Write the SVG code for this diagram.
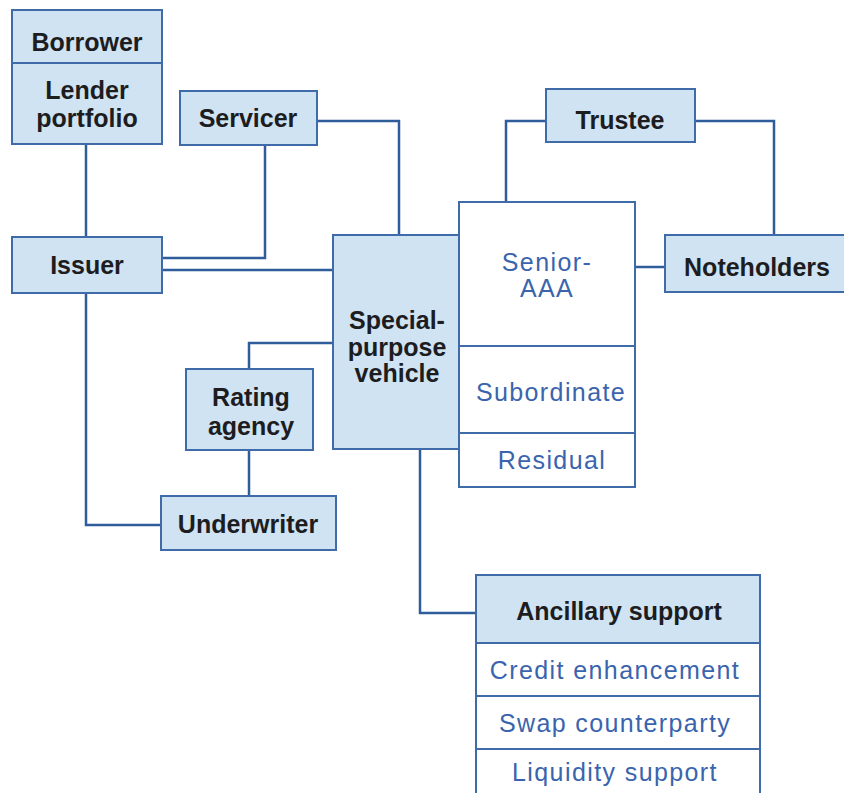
<svg xmlns="http://www.w3.org/2000/svg" width="844" height="793" viewBox="0 0 844 793">
  <style>
    .box { fill: #cfe3f2; stroke: #3f6ca8; stroke-width: 2; }
    .plain { fill: #ffffff; stroke: #3f6ca8; stroke-width: 2; }
    .div { stroke: #3f6ca8; stroke-width: 2; fill: none; }
    .conn { stroke: #2f5d9c; stroke-width: 2.5; fill: none; }
    .lbl { font-family: "Liberation Sans", Arial, sans-serif; font-weight: bold; font-size: 25px; fill: #1d1d1f; text-anchor: middle; }
    .sub { font-family: "Liberation Sans", Arial, sans-serif; font-size: 25px; fill: #3a64ad; text-anchor: middle; letter-spacing: 1.4px; }
  </style>
  <rect width="844" height="793" fill="#ffffff"/>

  <g id="connectors">
    <path class="conn" d="M86 144 V237"/>
    <path class="conn" d="M265 145 V258 H162"/>
    <path class="conn" d="M162 270 H333"/>
    <path class="conn" d="M317 121 H399 V235"/>
    <path class="conn" d="M86 293 V525 H161"/>
    <path class="conn" d="M333 343 H249 V369"/>
    <path class="conn" d="M249 450 V496"/>
    <path class="conn" d="M420 449 V613 H476"/>
    <path class="conn" d="M546 121 H506 V202"/>
    <path class="conn" d="M695 121 H774 V235"/>
    <path class="conn" d="M635 267 H665"/>
  </g>

  <g id="borrower">
    <rect class="box" x="12" y="10" width="150" height="134"/>
    <line class="div" x1="12" y1="63" x2="162" y2="63"/>
    <text class="lbl" x="87" y="51">Borrower</text>
    <text class="lbl" x="87" y="99">Lender</text>
    <text class="lbl" x="87" y="127">portfolio</text>
  </g>

  <g id="servicer">
    <rect class="box" x="180" y="91" width="137" height="54"/>
    <text class="lbl" x="248" y="127">Servicer</text>
  </g>

  <g id="issuer">
    <rect class="box" x="12" y="237" width="150" height="56"/>
    <text class="lbl" x="87" y="274">Issuer</text>
  </g>

  <g id="spv">
    <rect class="box" x="333" y="235" width="126" height="214"/>
    <text class="lbl" x="397" y="329">Special-</text>
    <text class="lbl" x="397" y="356">purpose</text>
    <text class="lbl" x="397" y="382">vehicle</text>
  </g>

  <g id="tranches">
    <rect class="plain" x="459" y="202" width="176" height="285"/>
    <line class="div" x1="459" y1="346" x2="635" y2="346"/>
    <line class="div" x1="459" y1="433" x2="635" y2="433"/>
    <text class="sub" x="547" y="271">Senior-</text>
    <text class="sub" x="547" y="297">AAA</text>
    <text class="sub" x="551" y="401">Subordinate</text>
    <text class="sub" x="552" y="469">Residual</text>
  </g>

  <g id="trustee">
    <rect class="box" x="546" y="89" width="149" height="53"/>
    <text class="lbl" x="620" y="129">Trustee</text>
  </g>

  <g id="noteholders">
    <rect class="box" x="665" y="235" width="180" height="57"/>
    <text class="lbl" x="757" y="276">Noteholders</text>
  </g>

  <g id="rating-agency">
    <rect class="box" x="186" y="369" width="127" height="81"/>
    <text class="lbl" x="251" y="406">Rating</text>
    <text class="lbl" x="251" y="435">agency</text>
  </g>

  <g id="underwriter">
    <rect class="box" x="161" y="496" width="175" height="54"/>
    <text class="lbl" x="248" y="533">Underwriter</text>
  </g>

  <g id="ancillary">
    <rect class="plain" x="476" y="575" width="284" height="230"/>
    <rect class="box" x="476" y="575" width="284" height="68"/>
    <line class="div" x1="476" y1="696" x2="760" y2="696"/>
    <line class="div" x1="476" y1="749" x2="760" y2="749"/>
    <text class="lbl" x="619" y="620">Ancillary support</text>
    <text class="sub" x="615" y="679">Credit enhancement</text>
    <text class="sub" x="615" y="732">Swap counterparty</text>
    <text class="sub" x="615" y="781">Liquidity support</text>
  </g>
</svg>
